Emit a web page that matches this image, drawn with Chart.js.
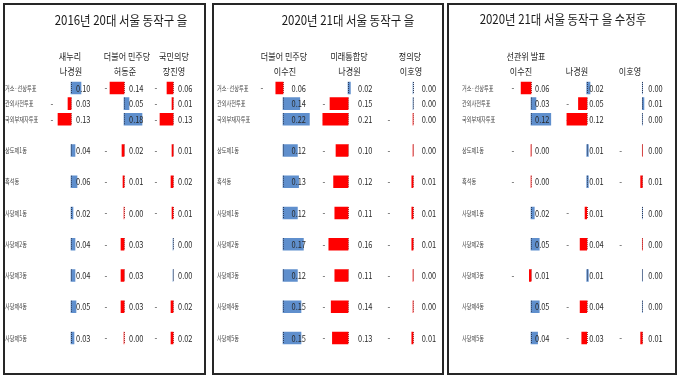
<!DOCTYPE html>
<html><head><meta charset="utf-8">
<script src="https://cdn.jsdelivr.net/npm/chart.js@4"></script>
<style>
html,body{margin:0;padding:0;background:#fff;width:680px;height:378px;overflow:hidden}
canvas{position:absolute;left:0;top:0}
.panel{position:absolute;box-sizing:border-box;border:2px solid #262626;top:3px;height:372px;background:#fff}
</style></head><body>
<div class="panel" style="left:3px;width:203px"></div>
<div class="panel" style="left:212px;width:232px"></div>
<div class="panel" style="left:447px;width:230px"></div>
<canvas id="c0" width="680" height="378"></canvas>
<canvas id="c1" width="680" height="378"></canvas>
<canvas id="c2" width="680" height="378"></canvas>
<script>
// ---- data ----
const categories = ['거소·선상투표','관외사전투표','국외부재자투표','상도제1동','흑석동','사당제1동','사당제2동','사당제3동','사당제4동','사당제5동'];
const titles = ['2016년 20대 서울 동작구 을','2020년 21대 서울 동작구 을','2020년 21대 서울 동작구 을 수정후'];
const headers2016 = [['새누리','나경원'],['더불어 민주당','허동준'],['국민의당','장진영']];
const headers2020 = [['더불어 민주당','이수진'],['미래통합당','나경원'],['정의당','이호영']];
const headersRev  = [['선관위 발표','이수진'],['','나경원'],['','이호영']];

const na2016   = [0.10,-0.03,-0.13,0.04,0.06,0.02,0.04,0.04,0.05,0.03];
const heo2016  = [-0.14,0.05,0.18,-0.02,-0.01,-0.00,-0.03,-0.03,-0.03,-0.00];
const jang2016 = [-0.06,-0.01,-0.13,-0.01,-0.02,-0.01,0.00,0.00,-0.02,-0.02];

const lee2020   = [-0.06,0.14,0.22,0.12,0.13,0.12,0.17,0.12,0.15,0.15];
const na2020    = [0.02,-0.15,-0.21,-0.10,-0.12,-0.11,-0.16,-0.11,-0.14,-0.13];
const leeho2020 = [0.00,0.00,-0.00,-0.00,-0.01,-0.01,-0.01,-0.00,-0.00,-0.01];

const leeRev   = [-0.06,0.03,0.12,-0.00,-0.00,0.02,0.05,-0.01,0.05,0.04];
const naRev    = [0.02,-0.05,-0.12,0.01,0.01,-0.01,-0.04,0.01,-0.04,-0.03];
const leehoRev = [0.00,0.01,0.00,-0.00,-0.01,0.00,-0.00,0.00,0.00,-0.01];

// ---- layout / style ----
const RED = '#ff0000', BLUE = '#5f8fcd';
const FONT = '"Noto Sans CJK KR","Noto Sans",sans-serif';
const panels = [
  {title:titles[0], headers:headers2016, series:[na2016,heo2016,jang2016],
   L:{labelX:5, left:44, bounds:[100,150,200], zeros:[71,124,173], k:100, signOff:[19,18,17], valOff:[5,5,5], titleX:121, titleY:20, head1:[70,127,174], head2:[71,125,174]}},
  {title:titles[1], headers:headers2020, series:[lee2020,na2020,leeho2020],
   L:{labelX:217, left:255, bounds:[318,382,440], zeros:[283,348,413], k:120, signOff:[21,24,24], valOff:[8.5,10,8.7], titleX:348, titleY:20.5, head1:[284,349,410], head2:[285,349.5,411]}},
  {title:titles[2], headers:headersRev, series:[leeRev,naRev,leehoRev],
   L:{labelX:462, left:505, bounds:[560,615,668], zeros:[531,586.7,642.3], k:165, signOff:[18,19,21.6], valOff:[4,2.5,6], titleX:563, titleY:19, head1:[526,0,0], head2:[521,577,630]}}
];

const isNeg = v => v < 0 || Object.is(v, -0);
function slotIndex(i){ return i < 3 ? i : 2*i - 2; }
function toSlots(arr, filler){ const out=[]; arr.forEach((v,i)=>{ if(i>=3) out.push(filler); out.push(v); }); return out; }
const slotLabels = toSlots(categories, '');

function txt(ctx, s, x, y, size, sx, align, color){
  ctx.save();
  ctx.font = `${size}px ${FONT}`;
  ctx.fillStyle = color; ctx.textBaseline = 'middle'; ctx.textAlign = align;
  ctx.translate(x, y); ctx.scale(sx, 1); ctx.fillText(s, 0, 0);
  ctx.restore();
}

function makePlugin(P){
  const L = P.L;
  return {
    id: 'panelDeco',
    beforeDatasetsDraw(chart){
      const ctx = chart.ctx, y = chart.scales.y;
      P.series.forEach((arr, c) => {
        const zx = chart.scales['x'+c].getPixelForValue(0);
        arr.forEach((v, i) => {
          if (isNeg(v)) txt(ctx, '-', zx - L.signOff[c], y.getPixelForValue(slotIndex(i)), 9, 0.9, 'center', '#444');
        });
      });
    },
    afterDatasetsDraw(chart){
      const ctx = chart.ctx, y = chart.scales.y;
      P.series.forEach((arr, c) => {
        const zx = chart.scales['x'+c].getPixelForValue(0);
        arr.forEach((v, i) => {
          const py = y.getPixelForValue(slotIndex(i));
          ctx.save();
          ctx.strokeStyle = isNeg(v) ? '#a83232' : '#2f3a55';
          ctx.lineWidth = 1; ctx.setLineDash([1,1]);
          ctx.beginPath(); ctx.moveTo(Math.round(zx)+0.5, py-6); ctx.lineTo(Math.round(zx)+0.5, py+6); ctx.stroke();
          ctx.restore();
          txt(ctx, Math.abs(v).toFixed(2), zx + L.valOff[c], py, 9.3, 0.8, 'left', '#2a2a2a');
        });
      });
      categories.forEach((lab, i) => {
        txt(ctx, lab, y.left, y.getPixelForValue(slotIndex(i)), 7.2, 0.72, 'left', '#444');
      });
      txt(ctx, P.title, L.titleX, L.titleY, 13, 0.88, 'center', '#1a1a1a');
      P.headers.forEach((h, c) => {
        if (h[0]) txt(ctx, h[0], L.head1[c], 56, 9.3, 0.87, 'center', '#222');
        if (h[1]) txt(ctx, h[1], L.head2[c], 71, 9.3, 0.87, 'center', '#222');
      });
    }
  };
}

function buildScales(L){
  const scales = {
    y: {type:'category', position:'left', offset:true,
        ticks:{display:false}, grid:{display:false}, border:{display:false},
        afterFit(s){ s.width = L.left - L.labelX; }}
  };
  let prev = L.left;
  L.bounds.forEach((b, i) => {
    const z = L.zeros[i];
    scales['x'+i] = {type:'linear', position:'bottom', stack:'cols', stackWeight: b - prev,
      bounds:'data', min: -(z - prev)/L.k, max: (b - z)/L.k, display:false};
    prev = b;
  });
  return scales;
}

panels.forEach((P, pi) => {
  const L = P.L;
  new Chart(document.getElementById('c'+pi), {
    type: 'bar',
    data: {
      labels: slotLabels,
      datasets: P.series.map((arr, c) => ({
        data: toSlots(arr, null),
        xAxisID: 'x'+c, yAxisID: 'y',
        grouped: false,
        barThickness: 12,
        borderWidth: 0,
        backgroundColor: ctx => isNeg(ctx.raw) ? RED : BLUE
      }))
    },
    options: {
      indexAxis: 'y',
      responsive: false,
      animation: false,
      events: [],
      layout: {padding: {left: L.labelX, right: 680 - L.bounds[2], top: 80.2, bottom: 32.2}},
      plugins: {legend:{display:false}, title:{display:false}, tooltip:{enabled:false}},
      scales: buildScales(L)
    },
    plugins: [makePlugin(P)]
  });
});
</script>
</body></html>
